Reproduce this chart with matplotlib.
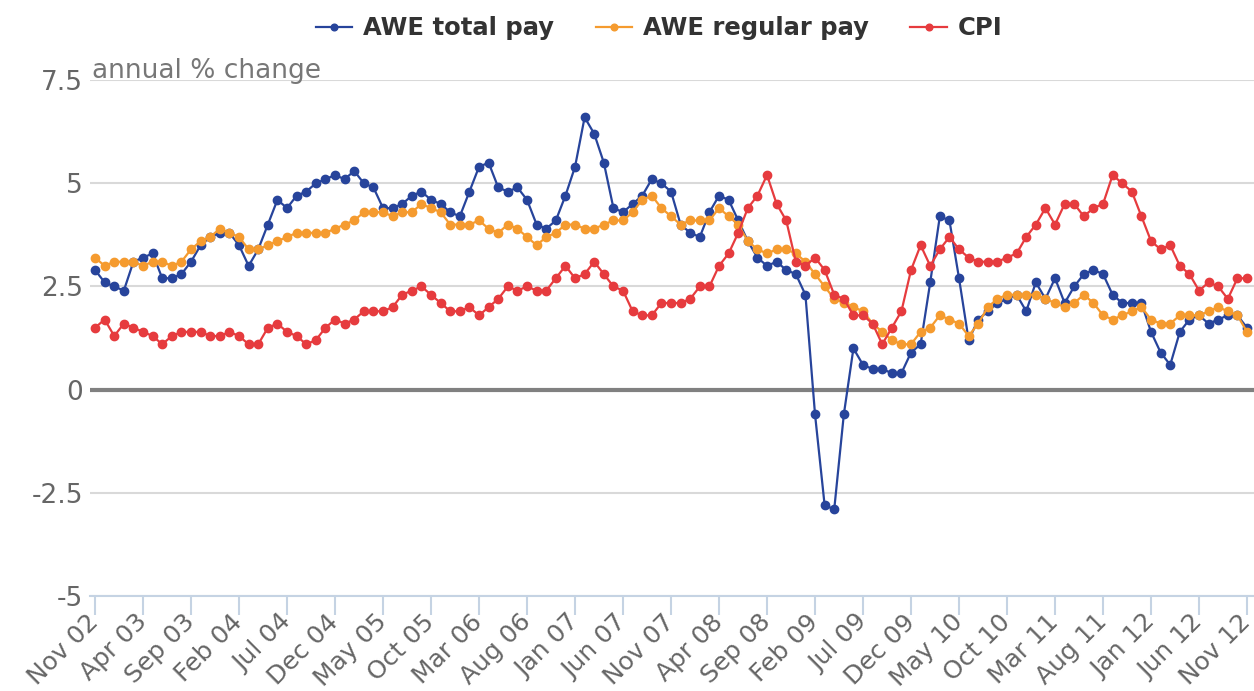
import numpy as np
import matplotlib
matplotlib.use("Agg")
import matplotlib.pyplot as plt

# monthly annual % change, Nov 2002 .. Nov 2012
tick_labels = ["Nov 02", "Apr 03", "Sep 03", "Feb 04", "Jul 04", "Dec 04", "May 05",
               "Oct 05", "Mar 06", "Aug 06", "Jan 07", "Jun 07", "Nov 07", "Apr 08",
               "Sep 08", "Feb 09", "Jul 09", "Dec 09", "May 10", "Oct 10", "Mar 11",
               "Aug 11", "Jan 12", "Jun 12", "Nov 12"]

total_pay = [2.9, 2.6, 2.5, 2.4, 3.1, 3.2, 3.3, 2.7, 2.7, 2.8,
             3.1, 3.5, 3.7, 3.8, 3.8, 3.5, 3.0, 3.4, 4.0, 4.6,
             4.4, 4.7, 4.8, 5.0, 5.1, 5.2, 5.1, 5.3, 5.0, 4.9,
             4.4, 4.4, 4.5, 4.7, 4.8, 4.6, 4.5, 4.3, 4.2, 4.8,
             5.4, 5.5, 4.9, 4.8, 4.9, 4.6, 4.0, 3.9, 4.1, 4.7,
             5.4, 6.6, 6.2, 5.5, 4.4, 4.3, 4.5, 4.7, 5.1, 5.0,
             4.8, 4.0, 3.8, 3.7, 4.3, 4.7, 4.6, 4.1, 3.6, 3.2,
             3.0, 3.1, 2.9, 2.8, 2.3, -0.6, -2.8, -2.9, -0.6, 1.0,
             0.6, 0.5, 0.5, 0.4, 0.4, 0.9, 1.1, 2.6, 4.2, 4.1,
             2.7, 1.2, 1.7, 1.9, 2.1, 2.2, 2.3, 1.9, 2.6, 2.2,
             2.7, 2.1, 2.5, 2.8, 2.9, 2.8, 2.3, 2.1, 2.1, 2.1,
             1.4, 0.9, 0.6, 1.4, 1.7, 1.8, 1.6, 1.7, 1.8, 1.8,
             1.5]

regular_pay = [3.2, 3.0, 3.1, 3.1, 3.1, 3.0, 3.1, 3.1, 3.0, 3.1,
               3.4, 3.6, 3.7, 3.9, 3.8, 3.7, 3.4, 3.4, 3.5, 3.6,
               3.7, 3.8, 3.8, 3.8, 3.8, 3.9, 4.0, 4.1, 4.3, 4.3,
               4.3, 4.2, 4.3, 4.3, 4.5, 4.4, 4.3, 4.0, 4.0, 4.0,
               4.1, 3.9, 3.8, 4.0, 3.9, 3.7, 3.5, 3.7, 3.8, 4.0,
               4.0, 3.9, 3.9, 4.0, 4.1, 4.1, 4.3, 4.6, 4.7, 4.4,
               4.2, 4.0, 4.1, 4.1, 4.1, 4.4, 4.2, 4.0, 3.6, 3.4,
               3.3, 3.4, 3.4, 3.3, 3.1, 2.8, 2.5, 2.2, 2.1, 2.0,
               1.9, 1.6, 1.4, 1.2, 1.1, 1.1, 1.4, 1.5, 1.8, 1.7,
               1.6, 1.3, 1.6, 2.0, 2.2, 2.3, 2.3, 2.3, 2.3, 2.2,
               2.1, 2.0, 2.1, 2.3, 2.1, 1.8, 1.7, 1.8, 1.9, 2.0,
               1.7, 1.6, 1.6, 1.8, 1.8, 1.8, 1.9, 2.0, 1.9, 1.8,
               1.4]

cpi = [1.5, 1.7, 1.3, 1.6, 1.5, 1.4, 1.3, 1.1, 1.3, 1.4,
       1.4, 1.4, 1.3, 1.3, 1.4, 1.3, 1.1, 1.1, 1.5, 1.6,
       1.4, 1.3, 1.1, 1.2, 1.5, 1.7, 1.6, 1.7, 1.9, 1.9,
       1.9, 2.0, 2.3, 2.4, 2.5, 2.3, 2.1, 1.9, 1.9, 2.0,
       1.8, 2.0, 2.2, 2.5, 2.4, 2.5, 2.4, 2.4, 2.7, 3.0,
       2.7, 2.8, 3.1, 2.8, 2.5, 2.4, 1.9, 1.8, 1.8, 2.1,
       2.1, 2.1, 2.2, 2.5, 2.5, 3.0, 3.3, 3.8, 4.4, 4.7,
       5.2, 4.5, 4.1, 3.1, 3.0, 3.2, 2.9, 2.3, 2.2, 1.8,
       1.8, 1.6, 1.1, 1.5, 1.9, 2.9, 3.5, 3.0, 3.4, 3.7,
       3.4, 3.2, 3.1, 3.1, 3.1, 3.2, 3.3, 3.7, 4.0, 4.4,
       4.0, 4.5, 4.5, 4.2, 4.4, 4.5, 5.2, 5.0, 4.8, 4.2,
       3.6, 3.4, 3.5, 3.0, 2.8, 2.4, 2.6, 2.5, 2.2, 2.7,
       2.7]

months = np.arange(len(cpi))

fig = plt.figure(figsize=(12.54, 6.91), dpi=100)
ax = fig.add_axes([0.0718, 0.1375, 0.928, 0.7465])

series = [("AWE total pay", total_pay, "#27449b"),
          ("AWE regular pay", regular_pay, "#f59b2f"),
          ("CPI", cpi, "#e63b3e")]
for name, vals, col in series:
    ax.plot(months, vals, color=col, lw=1.6, marker="o", ms=6, mec=col, label=name, zorder=3)

ax.set_xlim(-0.52, 120.7)
ax.set_ylim(-5, 7.5)
ax.set_yticks([-5, -2.5, 0, 2.5, 5, 7.5])
ax.set_yticklabels(["-5", "-2.5", "0", "2.5", "5", "7.5"])
ax.grid(axis="y", color="#d9d9d9", lw=1.5, zorder=0)
ax.axhline(0, color="#808080", lw=3, zorder=2)

ax.set_xticks(months[::5])
ax.set_xticklabels(tick_labels, rotation=45, ha="right", va="center", rotation_mode="anchor")

for s in ["top", "right", "left"]:
    ax.spines[s].set_visible(False)
ax.spines["bottom"].set_color("#c5d3e3")
ax.spines["bottom"].set_linewidth(1.5)
ax.tick_params(axis="x", colors="#c5d3e3", width=1.5, length=14, labelcolor="#666666",
               labelsize=18, pad=2)
ax.tick_params(axis="y", length=0, labelcolor="#666666", labelsize=19, pad=5)

fig.text(92 / 1254, 1 - 78 / 691, "annual % change", color="#777777", fontsize=19,
         va="baseline", ha="left")

fig.legend(loc="center", bbox_to_anchor=(0.5257, 0.959), ncol=3, frameon=False,
           prop={"weight": "bold", "size": 17.5}, labelcolor="#333333",
           handlelength=1.5, handletextpad=0.45, columnspacing=1.7, markerscale=0.8)

fig.savefig("out.png", dpi=100)
